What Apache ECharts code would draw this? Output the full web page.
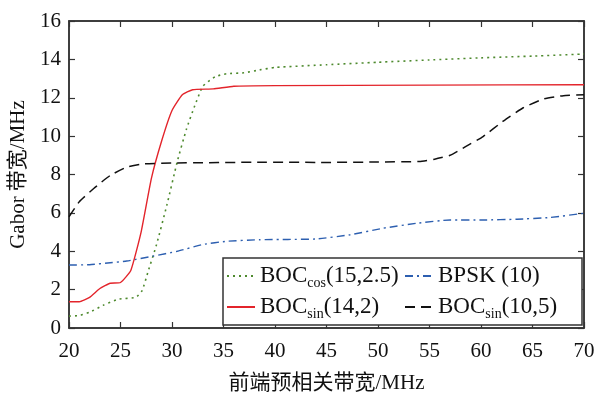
<!DOCTYPE html>
<html>
<head>
<meta charset="utf-8">
<script src="https://cdn.jsdelivr.net/npm/echarts@6/dist/echarts.min.js"></script>
<style>html,body{margin:0;padding:0;background:#fff}#c{width:600px;height:399px;background:#fff}</style>
</head>
<body>
<div id="c"></div>
<script>
const xTicks = [20, 25, 30, 35, 40, 45, 50, 55, 60, 65, 70];
const yTicks = [0, 2, 4, 6, 8, 10, 12, 14, 16];

const cosX = [20, 21, 22, 23.3, 24.8, 26.5, 27.1, 27.7, 28.5, 29.5, 30.5, 31.4, 32.2, 33, 34.2, 35.3, 37, 38.5, 40, 45, 50, 55, 60, 65, 70];
const cosY = [0.62, 0.65, 0.82, 1.18, 1.5, 1.6, 1.95, 2.98, 4.35, 6.4, 8.65, 10.36, 11.57, 12.6, 13.1, 13.25, 13.3, 13.45, 13.58, 13.72, 13.85, 13.97, 14.08, 14.17, 14.28];

const bpskX = [20, 22, 24, 25.6, 28.2, 30.5, 33, 35.3, 38.5, 44, 47.3, 50.5, 53.8, 57, 60.2, 63.5, 66.7, 70];
const bpskY = [3.28, 3.3, 3.4, 3.49, 3.75, 4.0, 4.35, 4.52, 4.6, 4.64, 4.86, 5.2, 5.46, 5.63, 5.63, 5.67, 5.76, 5.98];

const sin14X = [20, 21, 22, 23, 24, 25, 26, 27, 28, 29, 30, 31, 32, 34, 36, 40, 55, 70];
const sin14Y = [1.37, 1.37, 1.6, 2.06, 2.33, 2.37, 3.0, 5.0, 7.8, 9.76, 11.34, 12.16, 12.42, 12.46, 12.6, 12.63, 12.66, 12.68];

const sin10X = [20, 21, 22.4, 24, 25.6, 27.2, 30.5, 38.5, 45, 50, 54, 55.5, 57, 58.5, 60.2, 62.2, 64.1, 66.1, 68, 70];
const sin10Y = [5.8, 6.58, 7.27, 7.95, 8.38, 8.55, 8.6, 8.64, 8.63, 8.65, 8.68, 8.8, 9.0, 9.45, 9.98, 10.8, 11.48, 11.94, 12.11, 12.16];

const names = ['BOCcos(15,2.5)', 'BPSK (10)', 'BOCsin(14,2)', 'BOCsin(10,5)'];
const xName = '前端预相关带宽/MHz';
const yName = 'Gabor 带宽/MHz';

const zip = (xs, ys) => xs.map((x, i) => [x, ys[i]]);
const FONT = "'Liberation Serif', 'Noto Sans CJK SC', serif";

const chart = echarts.init(document.getElementById('c'));
const axisLine = () => ({show: true, onZero: false, lineStyle: {color: '#333', width: 1.5}});
const tick = () => ({show: true, inside: true, length: 6, lineStyle: {color: '#333', width: 1.2}});

function mk(name, data, color, type, width) {
  return {
    name, type: 'line', data, symbol: 'none', showSymbol: false,
    smooth: 0.15,
    lineStyle: {color, type, width},
    itemStyle: {color},
    z: 3
  };
}

chart.setOption({
  animation: false,
  grid: {left: 69, right: 16, top: 21, bottom: 68, show: true, borderColor: '#333', borderWidth: 1.5},
  xAxis: [{
    type: 'value', min: 20, max: 70, interval: 5,
    axisLine: axisLine(), axisTick: tick(), splitLine: {show: false},
    axisLabel: {color: '#111', fontFamily: FONT, fontSize: 21, margin: 13,
      formatter: v => xTicks.includes(v) ? String(v) : ''},
    name: xName, nameLocation: 'middle', nameGap: 45,
    nameTextStyle: {color: '#111', fontFamily: FONT, fontSize: 21}
  }, {
    type: 'value', position: 'top', min: 20, max: 70, interval: 5,
    axisLine: axisLine(), axisTick: tick(), splitLine: {show: false},
    axisLabel: {show: false}
  }],
  yAxis: [{
    type: 'value', min: 0, max: 16, interval: 2,
    axisLine: axisLine(), axisTick: tick(), splitLine: {show: false},
    axisLabel: {color: '#111', fontFamily: FONT, fontSize: 21, margin: 8,
      formatter: v => yTicks.includes(v) ? String(v) : ''},
    name: yName, nameLocation: 'middle', nameGap: 40, nameRotate: 90,
    nameTextStyle: {color: '#111', fontFamily: FONT, fontSize: 21}
  }, {
    type: 'value', position: 'right', min: 0, max: 16, interval: 2,
    axisLine: axisLine(), axisTick: tick(), splitLine: {show: false},
    axisLabel: {show: false}
  }],
  legend: {
    left: 223, top: 258, width: 362,
    orient: 'horizontal',
    padding: [4, 3, 4, 3],
    itemGap: 3, itemWidth: 28, itemHeight: 14,
    borderColor: '#333', borderWidth: 1.5, backgroundColor: '#fff',
    itemStyle: {opacity: 0, borderWidth: 0},
    data: names,
    formatter: n => n.replace(/^BOC(cos|sin)/, (m, s) => 'BOC{s|' + s + '}').replace(/\(/, '{a|(}').replace(/^BOC\{/, '{a|BOC}{'),
    textStyle: {
      color: '#111', fontFamily: FONT, fontSize: 23, width: 141, lineHeight: 28,
      rich: {
        a: {fontFamily: FONT, fontSize: 23, color: '#111', lineHeight: 28, verticalAlign: 'middle'},
        s: {fontFamily: FONT, fontSize: 14, color: '#111', lineHeight: 14, verticalAlign: 'bottom'}
      }
    }
  },
  series: [
    mk(names[0], zip(cosX, cosY), '#4e8a2e', [2, 4], 1.6),
    mk(names[1], zip(bpskX, bpskY), '#2d5fb0', [8, 4, 2, 4], 1.4),
    mk(names[2], zip(sin14X, sin14Y), '#e3242b', 'solid', 1.4),
    mk(names[3], zip(sin10X, sin10Y), '#111111', [10, 6], 1.5),
    {type: 'line', xAxisIndex: 1, yAxisIndex: 1, data: [[20, 0]], symbol: 'none', lineStyle: {opacity: 0}, silent: true}
  ]
});
</script>
</body>
</html>
